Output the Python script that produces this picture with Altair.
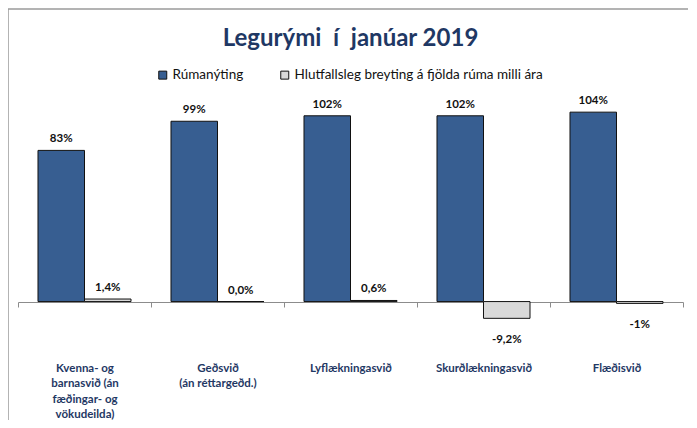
import altair as alt
import pandas as pd

categories = [
    "Kvenna- og\nbarnasvið  (án\nfæðingar- og\nvökudeilda)",
    "Geðsvið\n(án réttargeðd.)",
    "Lyflækningasvið",
    "Skurðlækningasvið",
    "Flæðisvið",
]
series_names = ["Rúmanýting", "Hlutfallsleg breyting á fjölda rúma  milli ára"]
occupancy = [83, 99, 102, 102, 104]
change = [1.4, 0.0, 0.6, -9.2, -1.0]
occupancy_labels = ["83%", "99%", "102%", "102%", "104%"]
change_labels = ["1,4%", "0,0%", "0,6%", "-9,2%", "-1%"]
title_text = "Legurými\u00a0\u00a0í\u00a0\u00a0janúar 2019"

rows = []
for i, c in enumerate(categories):
    rows.append({"cat": c, "series": series_names[0], "value": occupancy[i], "label": occupancy_labels[i]})
    rows.append({"cat": c, "series": series_names[1], "value": change[i], "label": change_labels[i]})
df = pd.DataFrame(rows)

FONT = "Lato"
NAVY = "#1F3864"

x = alt.X("cat:N", sort=categories, title=None,
          scale=alt.Scale(paddingInner=0, paddingOuter=0),
          axis=alt.Axis(orient="bottom", offset=-36, labelAngle=0,
                        labelExpr="split(datum.label, '\\n')",
                        labelFont=FONT, labelFontSize=11.5, labelFontWeight="bold",
                        labelColor=NAVY, labelPadding=55, labelLineHeight=15.5,
                        labelBaseline="top",
                        domainColor="#8c8c8c", tickColor="#8c8c8c", tickSize=5,
                        tickBand="extent", grid=False))
xo = alt.XOffset("series:N", sort=series_names,
                 scale=alt.Scale(paddingInner=0, paddingOuter=0.43))
y = alt.Y("value:Q", scale=alt.Scale(domain=[-20, 120], nice=False, zero=True), axis=None)

base = alt.Chart(df)

bars = base.mark_bar(stroke="#111111", strokeWidth=1).encode(
    x=x, xOffset=xo, y=y, y2=alt.datum(0),
    color=alt.Color("series:N", sort=series_names,
                    scale=alt.Scale(domain=series_names, range=["#375E91", "#D9D9D9"]),
                    legend=alt.Legend(title=None, orient="none", direction="horizontal",
                                      legendX=138, legendY=-15,
                                      symbolType="square", symbolSize=64,
                                      symbolStrokeColor="#111111", symbolStrokeWidth=1,
                                      labelFont=FONT, labelFontSize=13.5, labelColor="#111111",
                                      labelLimit=0, columnPadding=34, labelOffset=3)),
)

pos_labels = base.transform_filter("datum.value >= 0").mark_text(
    font=FONT, fontSize=11.5, fontWeight="bold", color="#111111", baseline="bottom", dy=-6
).encode(x=alt.X("cat:N", sort=categories), xOffset=xo, y=y, text="label:N")

neg_labels = base.transform_filter("datum.value < 0").mark_text(
    font=FONT, fontSize=11.5, fontWeight="bold", color="#111111", baseline="middle", dy=22
).encode(x=alt.X("cat:N", sort=categories), xOffset=xo, y=y, text="label:N")

frame_left = alt.Chart(pd.DataFrame({"a": [0]})).mark_rule(color="#9a9a9a", strokeWidth=1.5).encode(
    x=alt.value(-10), y=alt.value(-74), y2=alt.value(340))
frame_top = alt.Chart(pd.DataFrame({"a": [0]})).mark_rule(color="#9a9a9a", strokeWidth=1.5).encode(
    x=alt.value(-10), x2=alt.value(680), y=alt.value(-74))

chart = alt.layer(bars, pos_labels, neg_labels, frame_left, frame_top).properties(
    width=665, height=255,
    padding={"left": 10, "top": 75, "right": 5, "bottom": 82},
    autosize=alt.AutoSizeParams(type="none"),
    title=alt.Title(title_text, font=FONT, fontSize=24, fontWeight="bold",
                    color=NAVY, anchor="middle", frame="group", baseline="alphabetic",
                    offset=-62),
).configure_view(stroke=None)

chart.save("out.html", embed_options={"renderer": "svg", "actions": False})
